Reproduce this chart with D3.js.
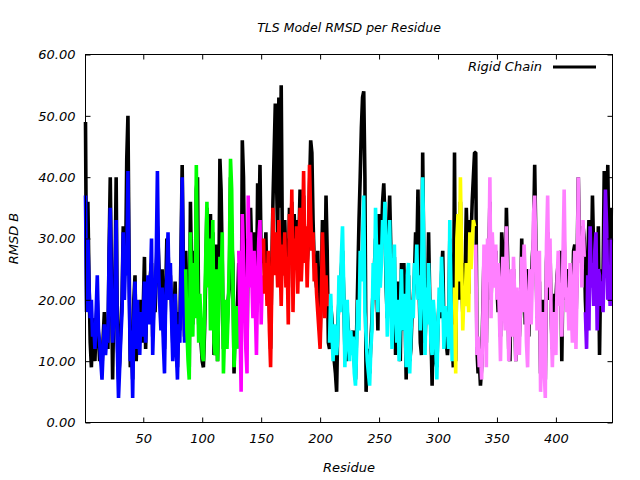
<!DOCTYPE html>
<html>
<head>
<meta charset="utf-8">
<script src="https://cdnjs.cloudflare.com/ajax/libs/d3/7.8.5/d3.min.js"></script>
<style>
  html, body { margin: 0; padding: 0; background: #fff; }
  svg { display: block; }
  text { font-family: "DejaVu Sans", sans-serif; font-style: italic; fill: #000; }
</style>
</head>
<body>
<svg id="chart" width="640" height="480"></svg>
<script>
// ---- data ----
const chartTitle = "TLS Model RMSD per Residue";
const xLabel = "Residue";
const yLabel = "RMSD B";
const legendLabel = "Rigid Chain";
const xTicks = [50, 100, 150, 200, 250, 300, 350, 400];
const yTicks = [0, 10, 20, 30, 40, 50, 60];
const xDomain = [1, 448];
const yDomain = [0, 60];

// first residue of each TLS group
const segStarts = [1, 86, 131, 152, 208, 314, 332, 425];
const segColors = ["#0000ff", "#00ff00", "#ff00ff", "#ff0000", "#00ffff", "#ffff00", "#ff80ff", "#8000ff"];

// TLS model RMSD per residue, by group
const tlsBlue = [37,18,30,22,17,20,14,16,12,18, 24,15,13,10,7,12,16,11,14,13, 27,35,20,13,17,22,33,12,4,9,
  14,18,31,20,27,24,41,22,10,15, 4,17,23,12,20,15,11,18,14,17, 23,13,19,24,16,22,30,11,18,21,
  27,41,25,19,15,22,13,8,20,24, 31,20,26,17,10,14,21,12,7,16, 13,24,40,22,13];
const tlsGreen = [25,15,10,7,31, 20,14,26,17,42,24,13,21,16,11, 10,18,27,36,22,30,15,24,33,13,
  11,25,10,19,27,22,31,8,15,20, 12,18,27,43,38,23,9,15,19,12];
const tlsMagenta = [28,17,5,34,27,20,12,8,37,22, 31,24,17,28,19,11,23,30,33,16,24];
const tlsRed = [30,21,26,19,28,15,9,22,35, 24,31,28,22,33,27,19,29,24,31, 22,27,16,34,26,38,18,30,25,32,
  21,29,35,23,28,41,26,32,22,30, 42,34,28,31,23,26,21,18,15,12, 20,31,25,17,24,19,21];
const tlsCyan = [13,21,15, 10,16,13,11,14,24,18,27,32,22, 9,16,20,13,10,15,11,14,8,6,
  12,20,15,28,23,30,37,18,14,10, 8,6,12,15,26,20,35,27,18,29, 22,26,33,30,36,24,14,28,33,20,
  12,24,29,18,13,20,10,17,25,15, 21,18,9,24,26,8,14,20,17,26, 23,29,20,24,15,22,40,28,11,22,
  16,26,19,13,11,20,17,13,7,15, 22,18,27,21,12,19,14,16,12,33, 21,10,16];
const tlsYellow = [22,8,30,34,23,40,27, 15,21,19,26,23,18,31,25,29,33,32];
const tlsPink = [29,11,14,9,12,7,16,29,20,9, 30,24,40,17,31,26,22,29,20,26, 18,10,22,27,19,15,32,23,10,16,
  25,14,27,21,10,22,17,11,20,27, 18,29,24,13,9,20,25,16,23,34, 37,27,15,20,28,5,13,18,9,4,
  29,37,22,30,16,9,18,14,11,23, 28,19,22,14,27,38,24,18,22,15, 26,19,13,22,28,12,23,40,26,30, 22,33,27];
const tlsPurple = [18,12,24,15,32,22,26,19,28,31, 15,25,24,19,23,18,27,38,32,20, 24,19,30];

// Rigid chain RMSD per residue, same grouping
const rigidBlue = [49,18,36,23,13,9,15,17,10,16, 20,14,10,12,9,14,18,12,16,12, 28,40,24,7,19,23,40,14,7,10,
  16,20,32,24,25,43,50,26,9,13, 7,20,24,10,17,13,14,20,13,19, 27,12,20,23,18,24,26,14,20,18,
  24,32,27,22,17,25,15,12,21,30, 28,22,24,19,13,16,23,15,9,18, 15,28,42,26,14];
const rigidGreen = [28,20,14,9,36, 24,16,28,21,38,40,16,19,13,10, 9,15,24,35,25,29,34,20,31,11,
  13,29,10,20,43,38,26,12,14,16, 15,20,22,40,30,26,8,17,14,20];
const rigidMagenta = [26,20,10,46,40,24,16,12,30,25, 35,28,22,31,24,18,39,30,42,26,29];
const rigidRed = [28,24,31,20,27,18,12,25,36, 44,52,40,30,53,35,55,28,24,33, 26,30,22,35,29,36,24,34,28,33,
  25,30,38,27,35,37,28,30,26,29, 38,46,44,33,26,24,22,28,17,14, 22,33,27,20,37,28,13];
const rigidCyan = [12,19,17, 14,10,8,5,16,20,22,25,28,21, 12,10,18,15,12,14,13,15,10,7,
  15,24,33,40,48,53,54,40,5,12, 10,8,13,17,22,25,30,24,15,34, 26,30,36,39,33,22,17,31,37,28,
  18,25,27,11,16,23,13,10,26,15, 26,19,7,22,24,10,12,18,20,24, 31,27,38,22,13,11,44,25,13,20,
  18,31,20,15,6,18,14,10,9,16, 20,17,24,28,15,17,13,11,14,30, 24,13,9];
const rigidYellow = [44,10,28,32,20,36,24, 18,26,24,35,28,21,33,30,36,40,44];
const rigidPink = [44,12,8,10,6,9,18,27,22,13, 27,25,36,20,28,24,25,28,22,18, 22,14,31,28,17,20,35,27,12,10,
  23,17,25,19,10,20,19,14,18,30, 20,26,16,25,18,14,24,21,27,30, 42,29,17,19,23,8,14,20,13,7,
  26,31,20,28,17,12,16,21,20,24, 26,21,28,10,25,30,20,25,20,18, 24,17,20,28,29,16,26,40,29,28, 31,32,30];
const rigidPurple = [20,15,26,33,30,24,37,28,25,30, 20,32,11,25,22,24,41,35,30,42, 26,20,35];

const tlsSegs = [tlsBlue, tlsGreen, tlsMagenta, tlsRed, tlsCyan, tlsYellow, tlsPink, tlsPurple];
const rigidSegs = [rigidBlue, rigidGreen, rigidMagenta, rigidRed, rigidCyan, rigidYellow, rigidPink, rigidPurple];

// ---- layout ----
const L = 85.5, R = 612.5, T = 54.5, B = 422.5;
const svg = d3.select("#chart");
const x = d3.scaleLinear().domain(xDomain).range([L, R]);
const y = d3.scaleLinear().domain(yDomain).range([B, T]);

const toPts = (vals, start) => vals.map((v, j) => ({ r: start + j, v }));
const line = d3.line().x(d => x(d.r)).y(d => y(d.v));

// rigid chain (black), one continuous line
const rigidPts = rigidSegs.flatMap((s, i) => toPts(s, segStarts[i]));
svg.append("path").datum(rigidPts)
  .attr("d", line).attr("fill", "none").attr("stroke", "#000")
  .attr("stroke-width", 3.6).attr("stroke-linejoin", "bevel");

// TLS groups (coloured)
tlsSegs.forEach((s, i) => {
  svg.append("path").datum(toPts(s, segStarts[i]))
    .attr("d", line).attr("fill", "none").attr("stroke", segColors[i])
    .attr("stroke-width", 3.6).attr("stroke-linejoin", "bevel");
});

// ---- axes ----
const fs = "13px";
const gB = svg.append("g").attr("transform", `translate(0,${B})`)
  .call(d3.axisBottom(x).tickValues(xTicks).tickSize(-5).tickPadding(11).tickFormat(d3.format("d")));
const gT = svg.append("g").attr("transform", `translate(0,${T})`)
  .call(d3.axisTop(x).tickValues(xTicks).tickSize(-5).tickFormat(""));
const gL = svg.append("g").attr("transform", `translate(${L},0)`)
  .call(d3.axisLeft(y).tickValues(yTicks).tickSize(-5).tickPadding(10).tickFormat(d3.format(".2f")));
const gR = svg.append("g").attr("transform", `translate(${R},0)`)
  .call(d3.axisRight(y).tickValues(yTicks).tickSize(-5).tickFormat(""));
[gB, gT, gL, gR].forEach(g => {
  g.select(".domain").remove();
  g.selectAll(".tick line").attr("stroke", "#000").attr("stroke-width", 1);
  g.selectAll("text").attr("font-family", "DejaVu Sans").attr("font-style", "italic")
    .attr("font-size", fs).attr("fill", "#000");
});
svg.append("rect").attr("x", L).attr("y", T).attr("width", R - L).attr("height", B - T)
  .attr("fill", "none").attr("stroke", "#000").attr("stroke-width", 1);

// ---- titles ----
svg.append("text").attr("x", (L + R) / 2).attr("y", 32).attr("text-anchor", "middle")
  .attr("font-size", "12.5px").text(chartTitle);
svg.append("text").attr("x", (L + R) / 2).attr("y", 472).attr("text-anchor", "middle")
  .attr("font-size", "13px").text(xLabel);
svg.append("text").attr("transform", `translate(18,${(T + B) / 2}) rotate(-90)`)
  .attr("text-anchor", "middle").attr("font-size", "13px").text(yLabel);

// ---- legend ----
svg.append("text").attr("x", 542).attr("y", 71).attr("text-anchor", "end")
  .attr("font-size", "13px").text(legendLabel);
svg.append("line").attr("x1", 553).attr("x2", 596).attr("y1", 67).attr("y2", 67)
  .attr("stroke", "#000").attr("stroke-width", 3);
</script>
</body>
</html>
